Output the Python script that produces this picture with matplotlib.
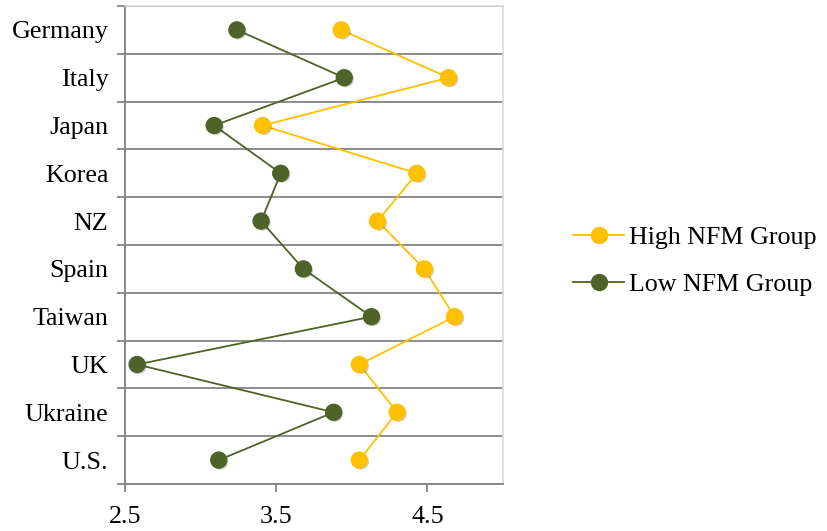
import matplotlib
matplotlib.use("Agg")
import matplotlib.pyplot as plt
import matplotlib.patheffects as pe
import numpy as np

countries = ["Germany", "Italy", "Japan", "Korea", "NZ", "Spain",
             "Taiwan", "UK", "Ukraine", "U.S."]
high_nfm = [3.93, 4.64, 3.41, 4.43, 4.17, 4.48, 4.68, 4.05, 4.30, 4.05]
low_nfm = [3.24, 3.95, 3.09, 3.53, 3.40, 3.68, 4.13, 2.58, 3.88, 3.12]
x_ticks = [2.5, 3.5, 4.5]

plt.rcParams["font.family"] = ["Liberation Serif", "DejaVu Serif"]
FS = 18.7

fig = plt.figure(figsize=(8.27, 5.31), dpi=100)
ax = fig.add_axes([125 / 827, 1 - 484 / 531, (503 - 125) / 827, (484 - 6) / 531])

pos = np.arange(len(countries))
shadow = [pe.SimplePatchShadow(offset=(1.2, -1.2), shadow_rgbFace="#000000", alpha=0.18),
          pe.Normal()]
for vals, col, lab in ((high_nfm, "#FFC000", "High NFM Group"),
                       (low_nfm, "#4F6228", "Low NFM Group")):
    ax.plot(vals, pos, color=col, lw=1.3, zorder=3)
    ax.plot(vals, pos, ls="none", marker="o", ms=11.5, mec=col, mfc=col,
            zorder=4, path_effects=shadow)
    ax.plot([], [], color=col, lw=1.3, marker="o", ms=11.5, mec=col, mfc=col,
            label=lab)

ax.set_xlim(2.5, 5.0)
ax.set_ylim(len(countries) - 0.5, -0.5)
ax.set_xticks(x_ticks)
ax.set_xticklabels([f"{v:.1f}" for v in x_ticks])
ax.set_yticks(pos)
ax.set_yticklabels(countries)
ax.set_yticks(np.arange(-0.5, len(countries), 1.0), minor=True)

ax.tick_params(axis="y", which="major", length=0, pad=12, labelsize=FS)
ax.tick_params(axis="y", which="minor", length=5.5, width=1.3, color="#868686")
ax.tick_params(axis="x", which="major", length=5.5, width=1.3, color="#868686",
               labelsize=FS, pad=10.5)

ax.grid(axis="y", which="minor", color="#8C8C8C", lw=1.4, zorder=1)
ax.set_axisbelow(True)

for side in ("left", "bottom"):
    ax.spines[side].set_color("#868686")
    ax.spines[side].set_linewidth(1.4)
for side in ("top", "right"):
    ax.spines[side].set_color("#D9D9D9")
    ax.spines[side].set_linewidth(1.2)

fig.legend(loc="center left", bbox_to_anchor=(563 / 827, 1 - 261 / 531),
           frameon=False, fontsize=FS, handlelength=1.95, handletextpad=0.2,
           labelspacing=0.9, borderaxespad=0)

fig.savefig("out.png", dpi=100)
